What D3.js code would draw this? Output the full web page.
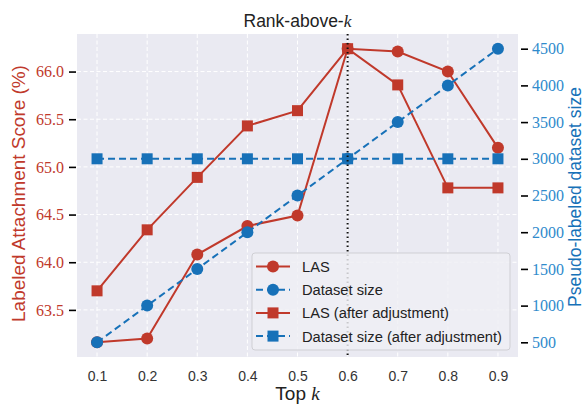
<!DOCTYPE html>
<html>
<head>
<meta charset="utf-8">
<script src="https://cdn.jsdelivr.net/npm/d3@7"></script>
<style>
  body { margin: 0; background: #fff; }
  svg { display: block; }
</style>
</head>
<body>
<svg id="chart"></svg>
<script>
// data
const topK = [0.1, 0.2, 0.3, 0.4, 0.5, 0.6, 0.7, 0.8, 0.9]
const las = [63.16, 63.20, 64.08, 64.38, 64.49, 66.24, 66.21, 66.00, 65.20]
const lasAdjusted = [63.70, 64.34, 64.89, 65.43, 65.59, 66.24, 65.86, 64.78, 64.78]
const datasetSize = [500, 1000, 1500, 2000, 2500, 3000, 3500, 4000, 4500]
const datasetSizeAdjusted = [3000, 3000, 3000, 3000, 3000, 3000, 3000, 3000, 3000]
const xTicks = [0.1, 0.2, 0.3, 0.4, 0.5, 0.6, 0.7, 0.8, 0.9]
const leftTicks = [63.5, 64.0, 64.5, 65.0, 65.5, 66.0]
const rightTicks = [500, 1000, 1500, 2000, 2500, 3000, 3500, 4000, 4500]
const legendLabels = ['LAS', 'Dataset size', 'LAS (after adjustment)', 'Dataset size (after adjustment)']
const markerK = 0.6

const red = '#c0392b'
const blue = '#1771b8'
const sans = '"Liberation Sans", Arial, sans-serif'
const serif = '"Liberation Serif", "DejaVu Serif", serif'
const width = 585, height = 405
const plot = { left: 77, right: 518, top: 34, bottom: 357 }

var svg = d3.select('#chart').attr('width', width).attr('height', height)

// matplotlib style 5% margins
function padded(vals) {
  const lo = d3.min(vals), hi = d3.max(vals), m = (hi - lo) * 0.05
  return [lo - m, hi + m]
}

// shrink / grow a label's font so it covers the wanted length
function fitText(sel, len) {
  var cur = sel.node().getComputedTextLength()
  var fs = parseFloat(sel.attr('font-size'))
  sel.attr('font-size', fs * len / cur)
}

var x = d3.scaleLinear().domain(padded(topK)).range([plot.left, plot.right])
var yL = d3.scaleLinear().domain(padded(las.concat(lasAdjusted))).range([plot.bottom, plot.top])
var yR = d3.scaleLinear().domain(padded(datasetSize.concat(datasetSizeAdjusted))).range([plot.bottom, plot.top])

// panel
svg.append('rect')
  .attr('x', plot.left).attr('y', plot.top)
  .attr('width', plot.right - plot.left).attr('height', plot.bottom - plot.top)
  .attr('fill', '#eaeaf2')

// grid
var grid = svg.append('g').attr('stroke', '#fff').attr('stroke-width', 1).attr('stroke-dasharray', '4,2.5')
grid.selectAll('.vx').data(xTicks).enter().append('line')
  .attr('x1', d => x(d)).attr('x2', d => x(d))
  .attr('y1', plot.top).attr('y2', plot.bottom)
grid.selectAll('.hy').data(leftTicks).enter().append('line')
  .attr('x1', plot.left).attr('x2', plot.right)
  .attr('y1', d => yL(d)).attr('y2', d => yL(d))

// left axis
var leftAxis = svg.append('g')
  .attr('transform', `translate(${plot.left - 1},0)`)
  .call(d3.axisLeft(yL).tickValues(leftTicks).tickFormat(d3.format('.1f')).tickSize(7).tickPadding(5))
leftAxis.select('.domain').remove()
leftAxis.selectAll('.tick line').attr('stroke', '#000').attr('stroke-width', 1.6)
leftAxis.selectAll('.tick text')
  .attr('fill', red).attr('font-family', serif).attr('font-size', 16)

// right axis
var rightAxis = svg.append('g')
  .attr('transform', `translate(${plot.right + 3},0)`)
  .call(d3.axisRight(yR).tickValues(rightTicks).tickFormat(d3.format('d')).tickSize(7).tickPadding(4))
rightAxis.select('.domain').remove()
rightAxis.selectAll('.tick line').attr('stroke', '#000').attr('stroke-width', 1.6)
rightAxis.selectAll('.tick text')
  .attr('fill', '#2f8bcc').attr('font-family', serif).attr('font-size', 16)

// bottom axis (labels only)
var bottomAxis = svg.append('g')
  .attr('transform', `translate(0,${plot.bottom})`)
  .call(d3.axisBottom(x).tickValues(xTicks).tickFormat(d3.format('.1f')).tickSize(0).tickPadding(14))
bottomAxis.select('.domain').remove()
bottomAxis.selectAll('.tick text')
  .attr('fill', '#333').attr('font-family', sans).attr('font-size', 14)

// axis titles
var yLabelL = svg.append('text')
  .attr('transform', `translate(24.5,193.5) rotate(-90)`)
  .attr('text-anchor', 'middle')
  .attr('fill', red).attr('font-family', sans).attr('font-size', 18)
  .text('Labeled Attachment Score (%)')
fitText(yLabelL, 257)

var yLabelR = svg.append('text')
  .attr('transform', `translate(580.5,197) rotate(-90)`)
  .attr('text-anchor', 'middle')
  .attr('fill', blue).attr('font-family', sans).attr('font-size', 18)
  .text('Pseudo-labeled dataset size')
fitText(yLabelR, 220)

var xl = svg.append('text')
  .attr('x', (plot.left + plot.right) / 2).attr('y', 400)
  .attr('text-anchor', 'middle').attr('fill', '#222')
  .attr('font-family', sans).attr('font-size', 19)
xl.append('tspan').text('Top ')
xl.append('tspan').attr('font-family', serif).attr('font-style', 'italic').text('k')

var title = svg.append('text')
  .attr('x', (plot.left + plot.right) / 2).attr('y', 27)
  .attr('text-anchor', 'middle').attr('fill', '#222')
  .attr('font-family', sans).attr('font-size', 17.5)
title.append('tspan').text('Rank-above-')
title.append('tspan').attr('font-family', serif).attr('font-style', 'italic').text('k')

// series
const series = [
  { values: las, scale: yL, color: red, dash: null, marker: 'circle' },
  { values: lasAdjusted, scale: yL, color: red, dash: null, marker: 'square' },
  { values: datasetSize, scale: yR, color: blue, dash: '7,4', marker: 'circle' },
  { values: datasetSizeAdjusted, scale: yR, color: blue, dash: '7,4', marker: 'square' }
]

function drawMarker(g, type, cx, cy, color) {
  if (type === 'circle') {
    g.append('circle').attr('cx', cx).attr('cy', cy).attr('r', 6).attr('fill', color)
  } else {
    g.append('rect').attr('x', cx - 5.5).attr('y', cy - 5.5).attr('width', 11).attr('height', 11).attr('fill', color)
  }
}

series.forEach(s => {
  var g = svg.append('g')
  var line = d3.line().x((d, i) => x(topK[i])).y(d => s.scale(d))
  g.append('path').datum(s.values)
    .attr('d', line).attr('fill', 'none')
    .attr('stroke', s.color).attr('stroke-width', 2)
    .attr('stroke-dasharray', s.dash)
  s.values.forEach((v, i) => drawMarker(g, s.marker, x(topK[i]), s.scale(v), s.color))
})

// vertical dotted line
svg.append('line')
  .attr('x1', x(markerK)).attr('x2', x(markerK))
  .attr('y1', plot.top).attr('y2', plot.bottom)
  .attr('stroke', '#111').attr('stroke-width', 2).attr('stroke-dasharray', '1.5,3')

// legend
const legendOrder = [series[0], series[2], series[1], series[3]]
var lg = svg.append('g')
lg.append('rect')
  .attr('x', 252).attr('y', 253).attr('width', 258).attr('height', 97).attr('rx', 3)
  .attr('fill', '#efeff4').attr('fill-opacity', 0.82).attr('stroke', '#cfcfd4').attr('stroke-width', 1)
legendOrder.forEach((s, i) => {
  var cy = 266.5 + i * 23.2
  var row = lg.append('g')
  row.append('line').attr('x1', 256).attr('x2', 290).attr('y1', cy).attr('y2', cy)
    .attr('stroke', s.color).attr('stroke-width', 2).attr('stroke-dasharray', s.dash)
  drawMarker(row, s.marker, 273, cy, s.color)
  row.append('text').attr('x', 302).attr('y', cy + 5.5)
    .attr('fill', '#222').attr('font-family', sans).attr('font-size', 14.7)
    .text(legendLabels[i])
})
</script>
</body>
</html>
